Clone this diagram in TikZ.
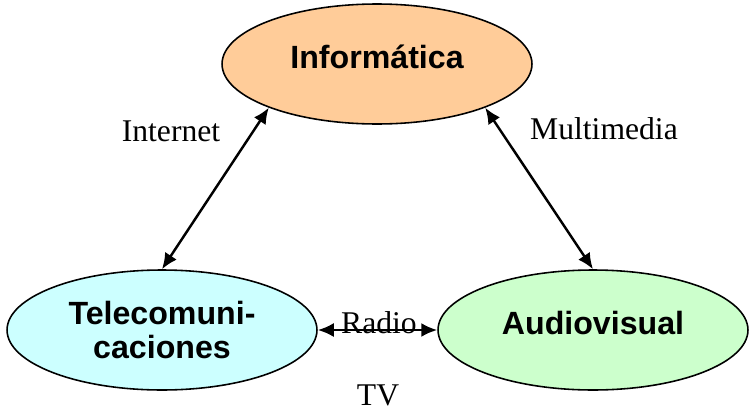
\documentclass[tikz,border=0pt]{standalone}
\usepackage{fontspec}
\setmainfont{Liberation Serif}
\setsansfont{Liberation Sans}
\usetikzlibrary{arrows.meta, shapes.geometric}
\definecolor{infofill}{HTML}{FFCC99}
\definecolor{telefill}{HTML}{CCFFFF}
\definecolor{audiofill}{HTML}{CCFFCC}
\tikzset{field/.style={ellipse, draw, line width=0.9pt, minimum width=6.2cm, minimum height=2.4cm, inner sep=0pt, align=center, font=\sffamily\bfseries\fontsize{18.3}{19.5}\selectfont}}
\tikzset{oneline/.style={text height=13pt, text depth=8pt}}
\tikzset{link/.style={{Latex[length=3.2mm, width=2.8mm]}-{Latex[length=3.2mm, width=2.8mm]}, line width=1.4pt}}
\tikzset{tag/.style={anchor=base, inner sep=0pt, font=\fontsize{18}{20}\selectfont}}

\begin{document}
\begin{tikzpicture}[x=0.02cm, y=0.02cm]
            \useasboundingbox (0, 0) rectangle (749, 410);
            \node[field, oneline, fill=infofill] (info) at (377, 346) {Informática};
            \node[field, fill=telefill] (tele) at (162, 80) {Telecomuni-\\caciones};
            \node[field, oneline, fill=audiofill] (audio) at (593, 80) {Audiovisual};
            \draw[link] (tele.north) -- (info.202);
            \draw[link] (info.-22) -- (audio.north);
            \draw[link] (tele) -- (audio);
            \node[tag] (internet) at (171, 269) {Internet};
            \node[tag] (multimedia) at (604, 271) {Multimedia};
            \node[tag] (radio) at (379, 77) {Radio};
            \node[tag] (tv) at (378, 5) {TV};
        \end{tikzpicture}
\end{document}
